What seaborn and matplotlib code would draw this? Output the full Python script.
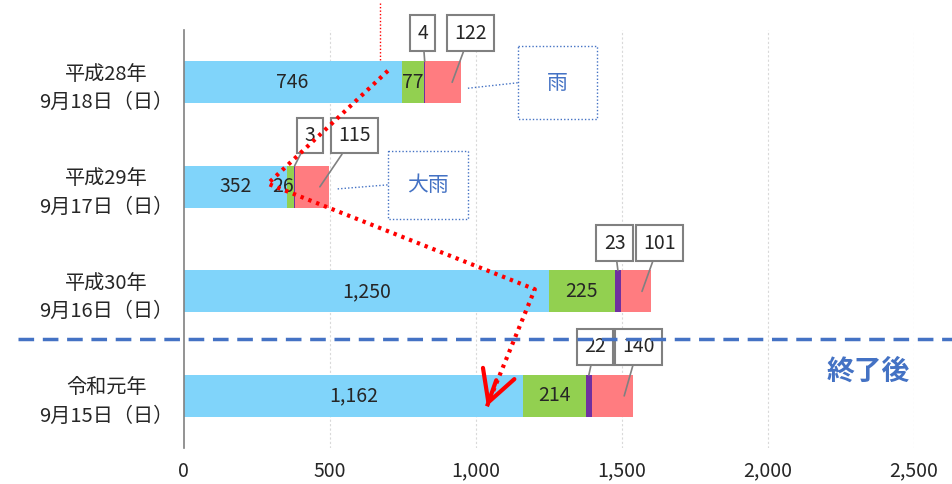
import numpy as np
import pandas as pd
import seaborn as sns
import matplotlib.pyplot as plt
import matplotlib.transforms as mtransforms
from matplotlib.patches import Rectangle

# chart data
categories = ['平成28年\n9月18日（日）', '平成29年\n9月17日（日）', '平成30年\n9月16日（日）', '令和元年\n9月15日（日）']
seg_blue = [746, 352, 1250, 1162]
seg_green = [77, 26, 225, 214]
seg_purple = [4, 3, 23, 22]
seg_pink = [122, 115, 101, 140]
x_ticks = [0, 500, 1000, 1500, 2000, 2500]

colors = ['#80D4FA', '#92D050', '#7030A0', '#FF7C80']

sns.set_style('white')
plt.rcParams['font.family'] = ['Noto Sans CJK JP', 'DejaVu Sans']

df = pd.DataFrame({'cat': categories, 'blue': seg_blue, 'green': seg_green,
                   'purple': seg_purple, 'pink': seg_pink})
cum = df[['blue', 'green', 'purple', 'pink']].cumsum(axis=1)

fig = plt.figure(figsize=(9.52, 4.84), dpi=100)
ax = fig.add_axes([0.193, 0.074, 0.767, 0.864])

# stacked bars: draw cumulative totals from the largest down
for col, c in zip(['pink', 'purple', 'green', 'blue'], colors[::-1]):
    sns.barplot(x=cum[col], y=df['cat'], color=c, orient='h', width=0.4,
                saturation=1, ax=ax, linewidth=0)

ax.set_xlim(0, 2500)
ax.set_ylim(3.5, -0.5)
ax.set_xticks(x_ticks)
ax.set_xticklabels([f'{v:,}' for v in x_ticks], fontsize=14)
ax.tick_params(axis='x', length=0, pad=9)
ax.tick_params(axis='y', length=0, pad=0)
ax.set_yticks(range(len(categories)))
ax.set_yticklabels(categories, fontsize=14.5, ha='center', linespacing=1.45)
for lab in ax.get_yticklabels():
    lab.set_x(-0.106)
ax.set_xlabel('')
ax.set_ylabel('')
for s in ['top', 'right', 'bottom']:
    ax.spines[s].set_visible(False)
ax.spines['left'].set_color('#808080')
ax.spines['left'].set_linewidth(1.2)
for v in x_ticks[1:]:
    ax.axvline(v, color='#D9D9D9', lw=0.8, ls=(0, (2, 2)), zorder=0)

# labels inside blue / green segments
for i in range(len(categories)):
    ax.text(seg_blue[i] / 2, i, f'{seg_blue[i]:,}', ha='center', va='center', fontsize=14)
    gx = seg_blue[i] + seg_green[i] / 2
    if seg_green[i] < 50:
        gx -= 25
    ax.text(gx, i, f'{seg_green[i]:,}', ha='center', va='center', fontsize=14)

# callout labels for purple / pink
purple_box_x = [818, 432, 1475, 1408]
pink_box_x = [981, 585, 1628, 1556]
box_dy = [-0.47, -0.49, -0.46, -0.47]
box_style = dict(boxstyle='square,pad=0.38', fc='white', ec='#808080', lw=1.5)
for i in range(len(categories)):
    px = cum['green'][i] + seg_purple[i] / 2
    ax.annotate(f'{seg_purple[i]}', xy=(px, i - 0.2), xytext=(purple_box_x[i], i + box_dy[i]),
                ha='center', va='center', fontsize=14, bbox=box_style,
                arrowprops=dict(arrowstyle='-', color='#808080', lw=1.2, shrinkA=0, shrinkB=0),
                annotation_clip=False)
    kx = cum['pink'][i] - 30
    ax.annotate(f'{seg_pink[i]}', xy=(kx, i), xytext=(pink_box_x[i], i + box_dy[i]),
                ha='center', va='center', fontsize=14, bbox=box_style,
                arrowprops=dict(arrowstyle='-', color='#808080', lw=1.2, shrinkA=0, shrinkB=0),
                annotation_clip=False)

# weather notes
blue_txt = '#4472C4'
notes = [('雨', 1144, -0.343, 1414, 0.352, (973, 0.057)),
         ('大雨', 699, 0.657, 973, 1.305, (527, 1.02))]
for txt, x0, y0, x1, y1, (lx, ly) in notes:
    ax.add_patch(Rectangle((x0, y0), x1 - x0, y1 - y0, fill=False, ec=blue_txt,
                           lw=1.0, ls=(0, (1, 1.5)), zorder=4, clip_on=False))
    ax.text((x0 + x1) / 2, (y0 + y1) / 2, txt, ha='center', va='center',
            fontsize=15, color=blue_txt, zorder=5)
    ax.plot([lx, x0], [ly, (y0 + y1) / 2], color=blue_txt, lw=1.0, ls=(0, (1, 1.5)), zorder=4)

# dashed separator
trans = mtransforms.blended_transform_factory(ax.transAxes, ax.transData)
ax.plot([-0.227, 1.06], [2.46, 2.46], color=blue_txt, lw=2.5, ls=(0, (4.5, 2.5)),
        transform=trans, clip_on=False, zorder=3)
ax.text(2342, 2.77, '終了後', ha='center', va='center', fontsize=20,
        fontweight='bold', color=blue_txt)

# red trend arrow
path_x = [699, 288, 1202, 1038]
path_y = [-0.11, 0.97, 1.98, 3.1]
ax.plot(path_x, path_y, color='red', lw=3, ls=(0, (0.8, 1.2)), zorder=6, clip_on=False)
ax.annotate('', xy=(path_x[-1], path_y[-1]), xytext=(1070, 2.85),
            arrowprops=dict(arrowstyle='->,head_length=1.1,head_width=0.6', color='red',
                            lw=3, mutation_scale=20, shrinkA=0, shrinkB=0),
            zorder=6)
ax.plot([671, 671], [-0.76, -0.19], color='red', lw=1, ls=(0, (1, 1.5)), clip_on=False, zorder=2)

fig.savefig('out.png', dpi=100)
